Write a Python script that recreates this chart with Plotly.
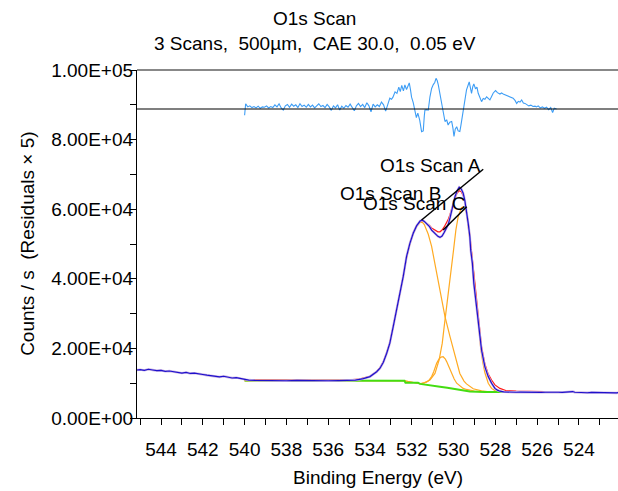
import plotly.graph_objects as go

# ---- O1s spectrum data (binding energy in eV, intensity in counts/s) ----
raw_be = [545.15, 545.0, 544.8, 544.6, 544.4, 544.2, 544.0, 543.8, 543.6, 543.4, 543.2, 543.0,
          542.8, 542.6, 542.4, 542.2, 542.0, 541.8, 541.6, 541.4, 541.2, 541.0, 540.8, 540.6,
          540.4, 540.2, 540.0, 539.8, 539.5, 539.0, 538.5, 538.0, 537.5, 537.0, 536.5, 536.0,
          535.5, 535.0, 534.7, 534.5, 534.32, 534.0, 533.84, 533.68, 533.52, 533.36, 533.2,
          533.05, 532.89, 532.72, 532.57, 532.41, 532.25, 532.09, 531.93, 531.77, 531.6, 531.5,
          531.4, 531.29, 531.15, 531.05, 530.89, 530.75, 530.65, 530.55, 530.45, 530.35, 530.26,
          530.17, 530.09, 530.0, 529.93, 529.83, 529.73, 529.63, 529.54, 529.46, 529.38, 529.3,
          529.22, 529.18, 529.1, 529.03, 528.9, 528.79, 528.66, 528.5, 528.34, 528.18, 528.02,
          527.9, 527.78, 527.6, 527.4, 527.2, 527.0, 526.8, 526.6, 526.4, 526.2, 526.0, 525.8,
          525.6, 525.4, 525.2, 525.0, 524.8, 524.6, 524.4, 524.3, 524.2, 524.0, 523.8, 523.6,
          523.4, 523.2, 523.0, 522.8, 522.6, 522.4, 522.2, 522.1]
raw_counts = [13800, 13900, 13700, 14000, 13800, 13600, 13700, 13400, 13500, 13300, 13200, 12900,
              13100, 12800, 12900, 12600, 12500, 12300, 12200, 12000, 11800, 12000, 11700, 11500,
              11600, 11300, 11000, 10900, 10800, 10700, 10750, 10700, 10800, 10700, 10750, 10700,
              10750, 10800, 10900, 11100, 11300, 11900, 12600, 13300, 14300, 16000, 18600,
              21500, 26200, 31000, 35300, 40600, 46400, 50200, 53100, 55200, 56600, 56900,
              56500, 55900, 55000, 54000, 52900, 52200, 51900, 52300, 53300, 54500, 55500,
              57500, 59800, 61800, 63600, 65300, 66300, 65800, 64600, 62500, 59800, 56000,
              52100, 48300, 44500, 38700, 32000, 26200, 19500, 14700, 11900, 10000, 8500,
              8000, 7700, 7500, 7400, 7450, 7400, 7450, 7400, 7350, 7450, 7400, 7350,
              7400, 7450, 7350, 7400, 7350, 7400, 7500, 7600, 7400, 7300, 7350, 7250,
              7350, 7300, 7350, 7250, 7350, 7300, 7200, 7300]

env_be = [540.0, 539.0, 538.0, 537.0, 536.0, 535.0, 534.5, 534.0, 533.68, 533.52, 533.36, 533.2,
          533.05, 532.89, 532.72, 532.57, 532.41, 532.25, 532.09, 531.93, 531.77, 531.6, 531.5,
          531.4, 531.29, 531.15, 531.05, 530.89, 530.75, 530.65, 530.55, 530.45, 530.35, 530.26,
          530.17, 530.09, 530.0, 529.93, 529.83, 529.73, 529.63, 529.54, 529.46, 529.38, 529.3,
          529.22, 529.14, 529.03, 528.9, 528.79, 528.66, 528.5, 528.34, 528.18, 528.02, 527.78,
          527.5, 527.0, 526.5, 526.0, 525.5, 525.0]
env_counts = [10950, 10900, 10900, 10900, 10900, 10950, 11200, 12000, 13400, 14500, 16200, 18700,
              21700, 26300, 31100, 35500, 40700, 46200, 50300, 53300, 55300, 56500, 56700,
              56400, 56000, 55300, 54600, 53900, 53500, 53500, 54000, 54900, 56000, 57000,
              58500, 60200, 62000, 63300, 64600, 65300, 65000, 63900, 62200, 59800, 56300,
              52500, 48000, 40000, 33000, 27000, 20500, 15500, 12600, 10900, 9500, 8500,
              7900, 7700, 7650, 7600, 7550, 7550]

bg_be = [540.0, 535.0, 534.0, 532.35, 532.3, 531.7, 531.6, 531.13, 530.65, 530.3, 529.85, 529.5,
         529.22, 528.5, 525.0]
bg_counts = [10750, 10750, 10700, 10700, 10100, 10100, 9800, 9500, 9000, 8700, 8300, 7900,
             7600, 7500, 7500]

# Component A (lower binding energy)
a_be = [540.0, 535.0, 532.35, 531.6, 531.4, 531.13, 530.89, 530.69, 530.54, 530.45, 530.33, 530.17,
        530.0, 529.89, 529.78, 529.62, 529.5, 529.38, 529.3, 529.22, 529.14, 529.06, 528.98,
        528.9, 528.82, 528.7, 528.6, 528.5, 528.34, 528.18, 528.0, 527.8, 527.5, 525.0]
a_counts = [10750, 10750, 10700, 9850, 10100, 10900, 12800, 16700, 21500, 26200, 32000, 38700,
            48300, 54000, 57800, 60500, 60600, 58800, 55500, 51500, 47500, 43000, 37500,
            32000, 26500, 20000, 16000, 13000, 10000, 8500, 7800, 7600, 7500, 7500]

# Component B (higher binding energy)
b_be = [540.0, 535.0, 534.5, 534.0, 533.68, 533.52, 533.36, 533.2, 533.05, 532.89, 532.72, 532.57,
        532.41, 532.25, 532.09, 531.93, 531.77, 531.6, 531.5, 531.4, 531.29, 531.21, 531.05,
        530.89, 530.75, 530.65, 530.41, 530.17, 529.93, 529.7, 529.5, 529.38, 529.06, 528.66,
        528.3, 527.5, 525.0]
b_counts = [10750, 10750, 11150, 11950, 13300, 14400, 16100, 18600, 21500, 26100, 30900, 35200,
            40400, 45900, 49900, 52900, 55000, 56200, 56300, 55600, 54200, 52800, 49300,
            44500, 40000, 36800, 29100, 23400, 17600, 12800, 10600, 9800, 8400, 7800,
            7550, 7500, 7500]

# Component C (small intermediate peak)
c_be = [540.0, 535.0, 532.35, 531.6, 531.4, 531.3, 531.2, 531.1, 531.05, 530.95, 530.81, 530.7,
        530.6, 530.5, 530.4, 530.33, 530.2, 530.09, 529.97, 529.85, 529.7, 529.54, 529.38,
        529.22, 529.0, 528.7, 525.0]
c_counts = [10750, 10750, 10700, 9850, 10100, 10300, 10700, 11400, 11900, 13300, 15700, 16900,
            17500, 17600, 17000, 16200, 14300, 12800, 11200, 10000, 9200, 8500, 8200,
            8000, 7700, 7550, 7500]

# Fit residuals (already scaled x5), drawn about an offset baseline
resid_offset = 88800
resid_be = [540.0, 539.95, 539.85, 539.75, 539.65, 539.55, 539.45, 539.35, 539.25, 539.15, 539.05,
            538.95, 538.85, 538.75, 538.65, 538.55, 538.45, 538.35, 538.25, 538.15, 538.05,
            537.95, 537.85, 537.75, 537.65, 537.55, 537.45, 537.35, 537.25, 537.15, 537.05,
            536.95, 536.85, 536.75, 536.65, 536.55, 536.45, 536.35, 536.25, 536.15, 536.05,
            535.95, 535.85, 535.75, 535.65, 535.55, 535.45, 535.35, 535.25, 535.15, 535.05,
            534.95, 534.85, 534.75, 534.65, 534.55, 534.45, 534.35, 534.25, 534.15, 534.05,
            533.95, 533.85, 533.75, 533.65, 533.55, 533.45, 533.35, 533.25, 533.15, 533.05,
            532.97, 532.9, 532.8, 532.71, 532.62, 532.55, 532.48, 532.4, 532.33, 532.25, 532.18,
            532.12, 532.06, 532.01, 531.93, 531.85, 531.78, 531.71, 531.62, 531.53, 531.45,
            531.4, 531.37, 531.3, 531.21, 531.13, 531.05, 530.97, 530.9, 530.84, 530.78, 530.73,
            530.65, 530.57, 530.5, 530.41, 530.33, 530.26, 530.18, 530.09, 530.03, 529.98,
            529.92, 529.85, 529.78, 529.7, 529.65, 529.61, 529.55, 529.5, 529.46, 529.38, 529.3,
            529.25, 529.19, 529.14, 529.08, 529.03, 528.95, 528.88, 528.82, 528.74, 528.66,
            528.58, 528.5, 528.42, 528.34, 528.26, 528.18, 528.1, 527.99, 527.9, 527.78, 527.7,
            527.6, 527.53, 527.46, 527.38, 527.3, 527.22, 527.15, 527.05, 526.98, 526.9, 526.82,
            526.74, 526.66, 526.58, 526.5, 526.4, 526.3, 526.2, 526.1, 526.03, 525.95, 525.85,
            525.75, 525.65, 525.55, 525.45, 525.35, 525.26, 525.18, 525.07]
resid_counts = [-1800, 1500, 600, 900, 400, 700, 300, 800, 200, 600, 500,
                900, 300, 700, 400, 1200, 600, 1500, 300, -300, 900,
                1300, 500, 1400, 800, 1200, 400, 1500, 700, 1100, 500,
                1300, 600, 1100, 300, 800, 1500, 700, 1000, 400, 1300,
                600, -400, 900, 300, 1200, -300, 800, 200, 1000, 500,
                1400, 400, -500, 900, 1600, 700, 1300, 400, 1800, 900,
                -800, 1400, 600, 1200, 700, 2000, 1200, -600, 1600, 3100,
                2800, 3400, 4900, 4500, 6300, 5000, 6800, 5200, 6900, 5600, 6600,
                7500, 5500, 3400, 1800, -300, -2500, -1200, -3200, -6500, -6300,
                -2000, -300, -200, -300, 3500, 5900, 7000, 7600, 8800, 8100, 6900,
                4200, 1600, -1500, -3600, -3100, -4600, -3800, -3600, -5500, -7900,
                -5800, -5100, -6300, -6500, -4800, -3200, -1500, 1200, 2600, 5500, 6900,
                7800, 6000, 4500, 6400, 7200, 5800, 6300, 4500, 3100, 2100,
                3000, 2800, 3500, 3000, 2600, 3600, 4600, 5300, 4700, 4300, 4600,
                4200, 4000, 4000, 3700, 3500, 3200, 3100, 2400, 1600, 2200, 2000,
                2600, 1700, 1600, 1200, 900, 1100, 700, 800, 600, 900, 300,
                600, 200, 500, -200, 400, -1000, 200, 0]

# Component labels and their leader lines (data coordinates)
label_text = ["O1s Scan A", "O1s Scan B", "O1s Scan C"]
label_be = [531.08, 533.04, 531.9]
label_counts = [72700, 64650, 61500]
leader_start_be = [528.58, 529.37]
leader_start_counts = [71470, 60700]
leader_end_be = [531.53, 530.5]
leader_end_counts = [56900, 54000]

y_ticks = [0, 20000, 40000, 60000, 80000, 100000]
x_ticks = [544, 542, 540, 538, 536, 534, 532, 530, 528, 526, 524]
x_range = [545.15, 522.13]

FONT = "Liberation Sans, Arial, sans-serif"
FS = 19

fig = go.Figure()

for be, cts in [(a_be, a_counts), (b_be, b_counts), (c_be, c_counts)]:
    fig.add_trace(go.Scatter(x=be, y=cts, mode="lines",
                             line=dict(color="#ffaa22", width=1.2), hoverinfo="skip"))
fig.add_trace(go.Scatter(x=bg_be, y=bg_counts, mode="lines",
                         line=dict(color="#44dd11", width=2), hoverinfo="skip"))
fig.add_trace(go.Scatter(x=env_be, y=env_counts, mode="lines",
                         line=dict(color="#ff1a1a", width=1.2), hoverinfo="skip"))
fig.add_trace(go.Scatter(x=raw_be, y=raw_counts, mode="lines",
                         line=dict(color="#cdb8e6", width=2.4), hoverinfo="skip"))
fig.add_trace(go.Scatter(x=raw_be, y=raw_counts, mode="lines",
                         line=dict(color="#1e10cc", width=1.2), hoverinfo="skip"))
fig.add_trace(go.Scatter(x=resid_be, y=[resid_offset + r for r in resid_counts], mode="lines",
                         line=dict(color="#3d9df5", width=1.1), hoverinfo="skip"))

shapes = [
    # residual zero line
    dict(type="line", xref="paper", yref="y", x0=0, x1=1, y0=resid_offset, y1=resid_offset,
         line=dict(color="black", width=1.2)),
    # top frame line
    dict(type="line", xref="paper", yref="paper", x0=0, x1=1, y0=1, y1=1,
         line=dict(color="#888888", width=2)),
]
for xs, ys, xe, ye in zip(leader_start_be, leader_start_counts, leader_end_be, leader_end_counts):
    shapes.append(dict(type="line", xref="x", yref="y", x0=xs, y0=ys, x1=xe, y1=ye,
                       line=dict(color="black", width=1.5)))

annotations = []
for t, bx, cy in zip(label_text, label_be, label_counts):
    annotations.append(dict(x=bx, y=cy, xref="x", yref="y", text=t, showarrow=False,
                            xanchor="center", yanchor="middle",
                            font=dict(family=FONT, size=FS, color="black")))
annotations += [
    dict(x=0.37, y=1.149, xref="paper", yref="paper", text="O1s Scan", showarrow=False,
         xanchor="center", yanchor="middle", font=dict(family=FONT, size=FS, color="black")),
    dict(x=0.37, y=1.075, xref="paper", yref="paper",
         text="3 Scans,  500µm,  CAE 30.0,  0.05 eV", showarrow=False,
         xanchor="center", yanchor="middle", font=dict(family=FONT, size=FS, color="black")),
    dict(x=0.5, y=-0.172, xref="paper", yref="paper", text="Binding Energy (eV)",
         showarrow=False, xanchor="center", yanchor="middle",
         font=dict(family=FONT, size=FS, color="black")),
    dict(x=-0.229, y=0.5, xref="paper", yref="paper", text="Counts / s  (Residuals × 5)",
         textangle=-90, showarrow=False, xanchor="center", yanchor="middle",
         font=dict(family=FONT, size=FS, color="black")),
]

fig.update_layout(
    width=618, height=491,
    margin=dict(l=137, r=0, t=70, b=73),
    paper_bgcolor="white", plot_bgcolor="white",
    showlegend=False,
    shapes=shapes,
    annotations=annotations,
    font=dict(family=FONT, size=FS, color="black"),
)
fig.update_xaxes(
    range=x_range, tickvals=x_ticks, ticktext=[str(v) for v in x_ticks],
    showgrid=False, zeroline=False, showline=True, linecolor="black", linewidth=1.2,
    ticks="outside", ticklen=6, tickcolor="black", tickwidth=1.2,
    minor=dict(dtick=1, tick0=0, ticks="outside", ticklen=6, tickcolor="black", tickwidth=1.2),
    ticklabelstandoff=8,
    tickfont=dict(family=FONT, size=FS, color="black"),
)
fig.update_yaxes(
    range=[0, 100000], tickvals=y_ticks, ticktext=["{:.2E}".format(v) for v in y_ticks],
    showgrid=False, zeroline=False, showline=True, linecolor="black", linewidth=1.2,
    ticks="outside", ticklen=6, tickcolor="black", tickwidth=1.2,
    minor=dict(dtick=10000, tick0=0, ticks="outside", ticklen=6, tickcolor="black", tickwidth=1.2),
    ticklabelstandoff=-7,
    tickfont=dict(family=FONT, size=FS, color="black"),
)

fig.write_html("out.html")
